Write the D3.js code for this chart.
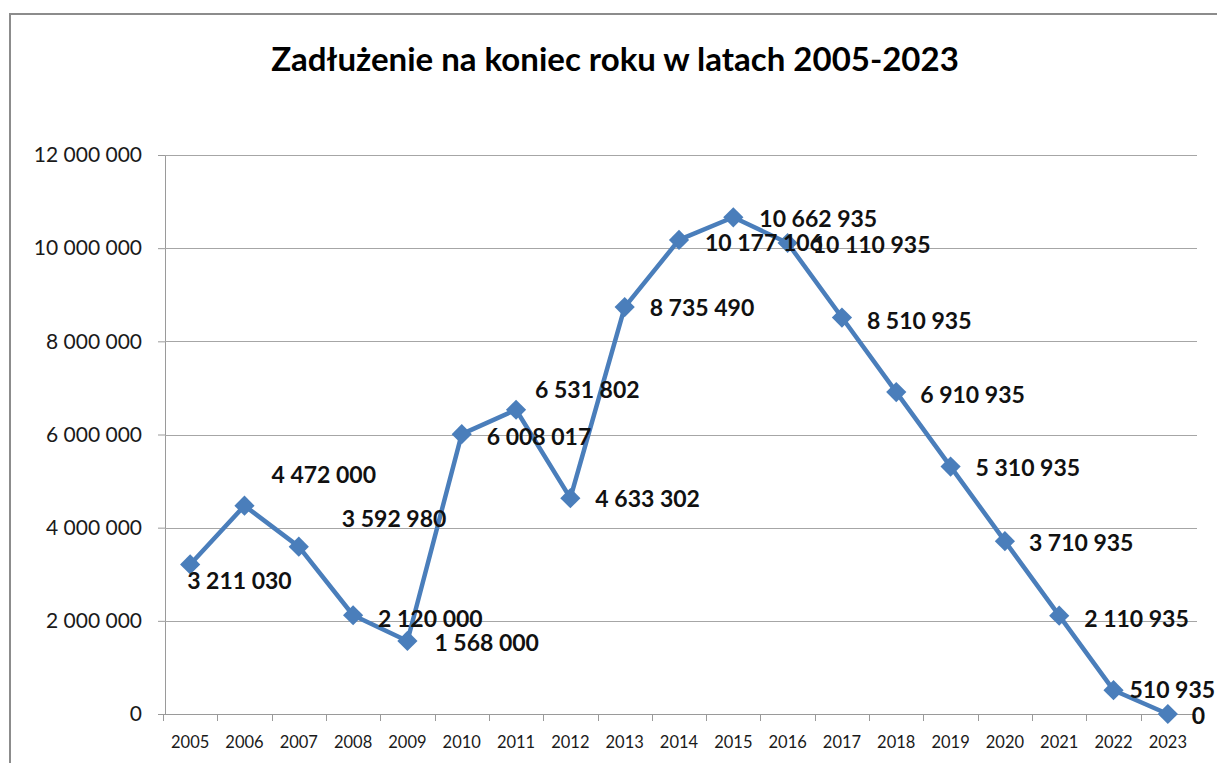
<!DOCTYPE html>
<html>
<head>
<meta charset="utf-8">
<script src="https://cdn.jsdelivr.net/npm/d3@7"></script>
<style>
  body { margin: 0; background: #fff; }
  svg { display: block; }
</style>
</head>
<body>
<div id="chart"></div>
<script>
// data
const years = ["2005", "2006", "2007", "2008", "2009", "2010", "2011", "2012", "2013", "2014",
               "2015", "2016", "2017", "2018", "2019", "2020", "2021", "2022", "2023"];
const debt = [3211030, 4472000, 3592980, 2120000, 1568000, 6008017, 6531802, 4633302, 8735490, 10177106,
              10662935, 10110935, 8510935, 6910935, 5310935, 3710935, 2110935, 510935, 0];
const yTicks = [0, 2000000, 4000000, 6000000, 8000000, 10000000, 12000000];
const chartTitle = "Zadłużenie na koniec roku w latach 2005-2023";

// label placement (dx, dy from the marker), most sit to the right like Excel does
const labelOffsets = [[-3, 17], [27, -31], [43, -28], [25, 4], [27, 2], [25, 3], [19, -20], [25, 1],
                      [25, 1], [26, 3], [26, 2], [25, 2], [25, 3], [24, 3], [25, 1], [24, 2], [25, 3],
                      [16, 0], [24, 2]];

const width = 1217, height = 763;
const margin = {top: 155, right: 22, bottom: 49, left: 163};

const svg = d3.select("#chart")
    .append("svg")
    .attr("width", width)
    .attr("height", height);

// outer chart border
svg.append("rect")
    .attr("x", 10).attr("y", 14)
    .attr("width", width).attr("height", height)
    .attr("fill", "none")
    .attr("stroke", "#8c8c8c")
    .attr("stroke-width", 2);

svg.append("text")
    .attr("x", 615)
    .attr("y", 71)
    .attr("text-anchor", "middle")
    .style("font-family", "Lato, 'Open Sans', sans-serif")
    .style("font-weight", "bold")
    .style("font-size", "33px")
    .text(chartTitle);

const x = d3.scaleBand()
    .domain(years)
    .range([margin.left, width - margin.right])
    .padding(0);

const y = d3.scaleLinear()
    .domain([0, 12000000])
    .range([height - margin.bottom, margin.top]);

const fmt = v => d3.format(",")(v).replace(/,/g, " ");

// gridlines + y axis
const yAxis = svg.append("g")
    .attr("transform", "translate(" + (margin.left + 2) + ",0)")
    .call(d3.axisLeft(y).tickValues(yTicks).tickFormat(fmt)
        .tickSize(7).tickPadding(16));
yAxis.select(".domain").attr("stroke", "#9a9a9a");
yAxis.selectAll(".tick line").attr("stroke", "#9a9a9a");
yAxis.selectAll("text")
    .style("font-family", "Lato, sans-serif")
    .style("font-size", "21px")
    .attr("fill", "#1a1a1a");

svg.append("g")
    .selectAll("line")
    .data(yTicks.filter(d => d > 0))
    .enter()
    .append("line")
    .attr("x1", margin.left + 2)
    .attr("x2", width - margin.right + 2)
    .attr("y1", d => Math.round(y(d)) + 0.5)
    .attr("y2", d => Math.round(y(d)) + 0.5)
    .attr("stroke", "#a6a6a6");

// x axis, ticks sit between categories
const xAxis = svg.append("g")
    .attr("transform", "translate(0," + (height - margin.bottom) + ")")
    .call(d3.axisBottom(x).tickSize(0).tickPadding(22));
xAxis.select(".domain").attr("stroke", "#9a9a9a");
xAxis.selectAll("text")
    .style("font-family", "Lato, sans-serif")
    .style("font-size", "16.5px")
    .attr("fill", "#1a1a1a");

const bounds = years.map(d => x(d)).concat([x(years[years.length - 1]) + x.bandwidth()]);
xAxis.selectAll(".bound")
    .data(bounds)
    .enter()
    .append("line")
    .attr("class", "bound")
    .attr("x1", d => Math.round(d) + 0.5)
    .attr("x2", d => Math.round(d) + 0.5)
    .attr("y1", 0)
    .attr("y2", 7)
    .attr("stroke", "#9a9a9a");

const points = years.map((yr, i) => ({year: yr, value: debt[i], off: labelOffsets[i]}));
const cx = d => x(d.year) + x.bandwidth() / 2;

const line = d3.line()
    .x(cx)
    .y(d => y(d.value));

svg.append("path")
    .datum(points)
    .attr("fill", "none")
    .attr("stroke", "#4a7ebb")
    .attr("stroke-width", 4.5)
    .attr("stroke-linejoin", "round")
    .attr("d", line);

svg.selectAll(".marker")
    .data(points)
    .enter()
    .append("path")
    .attr("class", "marker")
    .attr("d", d3.symbol(d3.symbolDiamond2, 260))
    .attr("transform", d => "translate(" + cx(d) + "," + y(d.value) + ")")
    .attr("fill", "#4a7ebb");

svg.selectAll(".label")
    .data(points)
    .enter()
    .append("text")
    .attr("class", "label")
    .attr("x", d => cx(d) + d.off[0])
    .attr("y", d => y(d.value) + d.off[1])
    .attr("dy", "0.35em")
    .style("font-family", "Lato, sans-serif")
    .style("font-weight", "bold")
    .style("font-size", "23px")
    .attr("fill", "#111")
    .text(d => fmt(d.value));
</script>
</body>
</html>
